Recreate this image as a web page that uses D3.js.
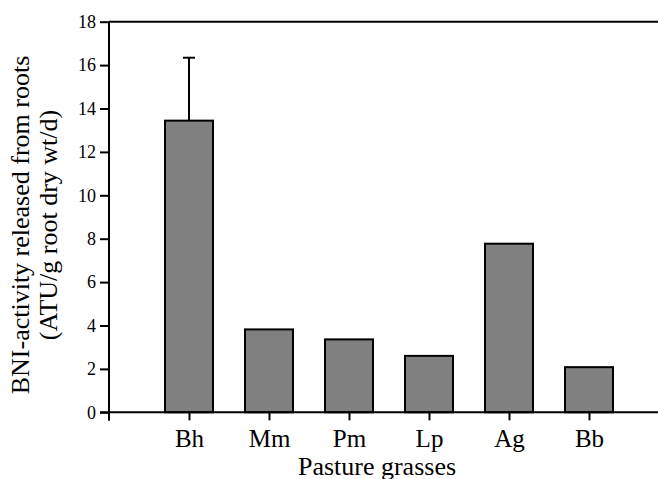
<!DOCTYPE html>
<html>
<head>
<meta charset="utf-8">
<script src="https://cdn.jsdelivr.net/npm/d3@7"></script>
<style>
  body { margin: 0; background: #fff; }
  svg text { font-family: "Liberation Serif", "Times New Roman", Times, serif; fill: #000; }
</style>
</head>
<body>
<script>
// data
const grasses = ["Bh", "Mm", "Pm", "Lp", "Ag", "Bb"]
const activity = [13.44, 3.82, 3.36, 2.6, 7.77, 2.08]
const errorUp = [2.9, 0, 0, 0, 0, 0]
const yTicks = [0, 2, 4, 6, 8, 10, 12, 14, 16, 18]

const width = 658, height = 479
const svg = d3.select("body").append("svg")
  .attr("width", width)
  .attr("height", height)

const axisX0 = 109
const x = d3.scalePoint()
  .domain(grasses)
  .range([189, 589])
const y = d3.scaleLinear()
  .domain([0, 18])
  .range([412.3, 21.7])

const barW = 48
const data = grasses.map((g, i) => ({name: g, value: activity[i], err: errorUp[i]}))

// bars
svg.append("g").attr("id", "bars")
  .selectAll("rect")
  .data(data)
  .enter()
  .append("rect")
  .attr("x", d => x(d.name) - barW / 2)
  .attr("y", d => y(d.value))
  .attr("width", barW)
  .attr("height", d => y(0) - y(d.value))
  .attr("fill", "#808080")
  .attr("stroke", "#000")
  .attr("stroke-width", 2)

// error bars (upper only)
const errs = svg.append("g").attr("id", "errors")
data.filter(d => d.err > 0).forEach(d => {
  errs.append("line")
    .attr("x1", x(d.name)).attr("x2", x(d.name))
    .attr("y1", y(d.value)).attr("y2", y(d.value + d.err))
    .attr("stroke", "#000").attr("stroke-width", 2)
  errs.append("line")
    .attr("x1", x(d.name) - 6).attr("x2", x(d.name) + 6)
    .attr("y1", y(d.value + d.err)).attr("y2", y(d.value + d.err))
    .attr("stroke", "#000").attr("stroke-width", 2)
})

// y axis
const yAxis = svg.append("g")
  .attr("transform", `translate(${axisX0},0)`)
  .call(d3.axisLeft(y).tickValues(yTicks).tickSize(9).tickSizeOuter(0).tickPadding(4))
yAxis.attr("font-family", null).attr("font-size", null)
yAxis.select(".domain").remove()
yAxis.selectAll(".tick line").attr("stroke-width", 2)
yAxis.selectAll(".tick text").style("font-size", "18px")
svg.append("line")
  .attr("x1", axisX0).attr("x2", axisX0)
  .attr("y1", y(18)).attr("y2", y(0) + 8.5)
  .attr("stroke", "#000").attr("stroke-width", 2)

// top frame line at 18
svg.append("line")
  .attr("x1", axisX0).attr("x2", width)
  .attr("y1", y(18)).attr("y2", y(18))
  .attr("stroke", "#000").attr("stroke-width", 2)

// x axis
const xAxis = svg.append("g")
  .attr("transform", `translate(0,${y(0)})`)
  .call(d3.axisBottom(x).tickSize(8).tickPadding(9))
xAxis.attr("font-family", null).attr("font-size", null)
xAxis.select(".domain").remove()
xAxis.selectAll(".tick line").attr("stroke-width", 2)
xAxis.selectAll(".tick text").style("font-size", "25px")
svg.append("line")
  .attr("x1", axisX0 - 9).attr("x2", width)
  .attr("y1", y(0)).attr("y2", y(0))
  .attr("stroke", "#000").attr("stroke-width", 2)

// axis titles
svg.append("text")
  .text("Pasture grasses")
  .attr("x", 377)
  .attr("y", 475)
  .attr("text-anchor", "middle")
  .style("font-size", "26px")

const yTitle = svg.append("text")
  .attr("transform", "translate(0,225) rotate(-90)")
  .attr("text-anchor", "middle")
  .style("font-size", "26px")
yTitle.append("tspan").attr("x", 0).attr("y", 29).text("BNI-activity released from roots")
yTitle.append("tspan").attr("x", 0).attr("y", 57).text("(ATU/g root dry wt/d)")
</script>
</body>
</html>
